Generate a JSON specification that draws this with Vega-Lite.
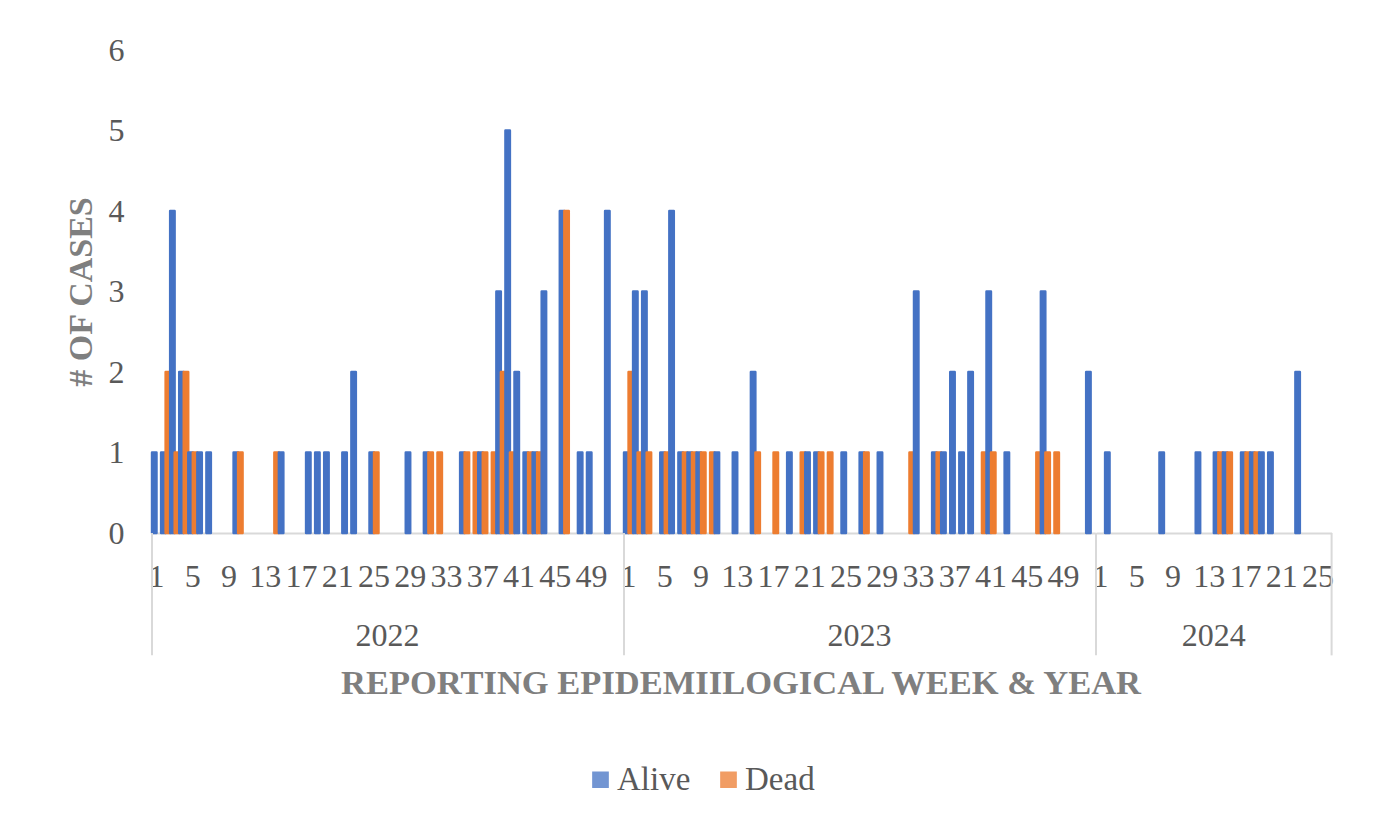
{
  "$schema": "https://vega.github.io/schema/vega-lite/v6.json",
  "background": "white",
  "padding": {"left": 64, "top": 34, "right": 5, "bottom": 5},
  "bounds": "flush",
  "data": {
    "values": [
      {"year": "2022", "week": 1, "Alive": 1, "Dead": 0},
      {"year": "2022", "week": 2, "Alive": 1, "Dead": 2},
      {"year": "2022", "week": 3, "Alive": 4, "Dead": 1},
      {"year": "2022", "week": 4, "Alive": 2, "Dead": 2},
      {"year": "2022", "week": 5, "Alive": 1, "Dead": 1},
      {"year": "2022", "week": 6, "Alive": 1, "Dead": 0},
      {"year": "2022", "week": 7, "Alive": 1, "Dead": 0},
      {"year": "2022", "week": 8, "Alive": 0, "Dead": 0},
      {"year": "2022", "week": 9, "Alive": 0, "Dead": 0},
      {"year": "2022", "week": 10, "Alive": 1, "Dead": 1},
      {"year": "2022", "week": 11, "Alive": 0, "Dead": 0},
      {"year": "2022", "week": 12, "Alive": 0, "Dead": 0},
      {"year": "2022", "week": 13, "Alive": 0, "Dead": 0},
      {"year": "2022", "week": 14, "Alive": 0, "Dead": 1},
      {"year": "2022", "week": 15, "Alive": 1, "Dead": 0},
      {"year": "2022", "week": 16, "Alive": 0, "Dead": 0},
      {"year": "2022", "week": 17, "Alive": 0, "Dead": 0},
      {"year": "2022", "week": 18, "Alive": 1, "Dead": 0},
      {"year": "2022", "week": 19, "Alive": 1, "Dead": 0},
      {"year": "2022", "week": 20, "Alive": 1, "Dead": 0},
      {"year": "2022", "week": 21, "Alive": 0, "Dead": 0},
      {"year": "2022", "week": 22, "Alive": 1, "Dead": 0},
      {"year": "2022", "week": 23, "Alive": 2, "Dead": 0},
      {"year": "2022", "week": 24, "Alive": 0, "Dead": 0},
      {"year": "2022", "week": 25, "Alive": 1, "Dead": 1},
      {"year": "2022", "week": 26, "Alive": 0, "Dead": 0},
      {"year": "2022", "week": 27, "Alive": 0, "Dead": 0},
      {"year": "2022", "week": 28, "Alive": 0, "Dead": 0},
      {"year": "2022", "week": 29, "Alive": 1, "Dead": 0},
      {"year": "2022", "week": 30, "Alive": 0, "Dead": 0},
      {"year": "2022", "week": 31, "Alive": 1, "Dead": 1},
      {"year": "2022", "week": 32, "Alive": 0, "Dead": 1},
      {"year": "2022", "week": 33, "Alive": 0, "Dead": 0},
      {"year": "2022", "week": 34, "Alive": 0, "Dead": 0},
      {"year": "2022", "week": 35, "Alive": 1, "Dead": 1},
      {"year": "2022", "week": 36, "Alive": 0, "Dead": 1},
      {"year": "2022", "week": 37, "Alive": 1, "Dead": 1},
      {"year": "2022", "week": 38, "Alive": 0, "Dead": 1},
      {"year": "2022", "week": 39, "Alive": 3, "Dead": 2},
      {"year": "2022", "week": 40, "Alive": 5, "Dead": 1},
      {"year": "2022", "week": 41, "Alive": 2, "Dead": 0},
      {"year": "2022", "week": 42, "Alive": 1, "Dead": 1},
      {"year": "2022", "week": 43, "Alive": 1, "Dead": 1},
      {"year": "2022", "week": 44, "Alive": 3, "Dead": 0},
      {"year": "2022", "week": 45, "Alive": 0, "Dead": 0},
      {"year": "2022", "week": 46, "Alive": 4, "Dead": 4},
      {"year": "2022", "week": 47, "Alive": 0, "Dead": 0},
      {"year": "2022", "week": 48, "Alive": 1, "Dead": 0},
      {"year": "2022", "week": 49, "Alive": 1, "Dead": 0},
      {"year": "2022", "week": 50, "Alive": 0, "Dead": 0},
      {"year": "2022", "week": 51, "Alive": 4, "Dead": 0},
      {"year": "2022", "week": 52, "Alive": 0, "Dead": 0},
      {"year": "2023", "week": 1, "Alive": 1, "Dead": 2},
      {"year": "2023", "week": 2, "Alive": 3, "Dead": 1},
      {"year": "2023", "week": 3, "Alive": 3, "Dead": 1},
      {"year": "2023", "week": 4, "Alive": 0, "Dead": 0},
      {"year": "2023", "week": 5, "Alive": 1, "Dead": 1},
      {"year": "2023", "week": 6, "Alive": 4, "Dead": 0},
      {"year": "2023", "week": 7, "Alive": 1, "Dead": 1},
      {"year": "2023", "week": 8, "Alive": 1, "Dead": 1},
      {"year": "2023", "week": 9, "Alive": 1, "Dead": 1},
      {"year": "2023", "week": 10, "Alive": 0, "Dead": 1},
      {"year": "2023", "week": 11, "Alive": 1, "Dead": 0},
      {"year": "2023", "week": 12, "Alive": 0, "Dead": 0},
      {"year": "2023", "week": 13, "Alive": 1, "Dead": 0},
      {"year": "2023", "week": 14, "Alive": 0, "Dead": 0},
      {"year": "2023", "week": 15, "Alive": 2, "Dead": 1},
      {"year": "2023", "week": 16, "Alive": 0, "Dead": 0},
      {"year": "2023", "week": 17, "Alive": 0, "Dead": 1},
      {"year": "2023", "week": 18, "Alive": 0, "Dead": 0},
      {"year": "2023", "week": 19, "Alive": 1, "Dead": 0},
      {"year": "2023", "week": 20, "Alive": 0, "Dead": 1},
      {"year": "2023", "week": 21, "Alive": 1, "Dead": 0},
      {"year": "2023", "week": 22, "Alive": 1, "Dead": 1},
      {"year": "2023", "week": 23, "Alive": 0, "Dead": 1},
      {"year": "2023", "week": 24, "Alive": 0, "Dead": 0},
      {"year": "2023", "week": 25, "Alive": 1, "Dead": 0},
      {"year": "2023", "week": 26, "Alive": 0, "Dead": 0},
      {"year": "2023", "week": 27, "Alive": 1, "Dead": 1},
      {"year": "2023", "week": 28, "Alive": 0, "Dead": 0},
      {"year": "2023", "week": 29, "Alive": 1, "Dead": 0},
      {"year": "2023", "week": 30, "Alive": 0, "Dead": 0},
      {"year": "2023", "week": 31, "Alive": 0, "Dead": 0},
      {"year": "2023", "week": 32, "Alive": 0, "Dead": 1},
      {"year": "2023", "week": 33, "Alive": 3, "Dead": 0},
      {"year": "2023", "week": 34, "Alive": 0, "Dead": 0},
      {"year": "2023", "week": 35, "Alive": 1, "Dead": 1},
      {"year": "2023", "week": 36, "Alive": 1, "Dead": 0},
      {"year": "2023", "week": 37, "Alive": 2, "Dead": 0},
      {"year": "2023", "week": 38, "Alive": 1, "Dead": 0},
      {"year": "2023", "week": 39, "Alive": 2, "Dead": 0},
      {"year": "2023", "week": 40, "Alive": 0, "Dead": 1},
      {"year": "2023", "week": 41, "Alive": 3, "Dead": 1},
      {"year": "2023", "week": 42, "Alive": 0, "Dead": 0},
      {"year": "2023", "week": 43, "Alive": 1, "Dead": 0},
      {"year": "2023", "week": 44, "Alive": 0, "Dead": 0},
      {"year": "2023", "week": 45, "Alive": 0, "Dead": 0},
      {"year": "2023", "week": 46, "Alive": 0, "Dead": 1},
      {"year": "2023", "week": 47, "Alive": 3, "Dead": 1},
      {"year": "2023", "week": 48, "Alive": 0, "Dead": 1},
      {"year": "2023", "week": 49, "Alive": 0, "Dead": 0},
      {"year": "2023", "week": 50, "Alive": 0, "Dead": 0},
      {"year": "2023", "week": 51, "Alive": 0, "Dead": 0},
      {"year": "2023", "week": 52, "Alive": 2, "Dead": 0},
      {"year": "2024", "week": 1, "Alive": 0, "Dead": 0},
      {"year": "2024", "week": 2, "Alive": 1, "Dead": 0},
      {"year": "2024", "week": 3, "Alive": 0, "Dead": 0},
      {"year": "2024", "week": 4, "Alive": 0, "Dead": 0},
      {"year": "2024", "week": 5, "Alive": 0, "Dead": 0},
      {"year": "2024", "week": 6, "Alive": 0, "Dead": 0},
      {"year": "2024", "week": 7, "Alive": 0, "Dead": 0},
      {"year": "2024", "week": 8, "Alive": 1, "Dead": 0},
      {"year": "2024", "week": 9, "Alive": 0, "Dead": 0},
      {"year": "2024", "week": 10, "Alive": 0, "Dead": 0},
      {"year": "2024", "week": 11, "Alive": 0, "Dead": 0},
      {"year": "2024", "week": 12, "Alive": 1, "Dead": 0},
      {"year": "2024", "week": 13, "Alive": 0, "Dead": 0},
      {"year": "2024", "week": 14, "Alive": 1, "Dead": 1},
      {"year": "2024", "week": 15, "Alive": 1, "Dead": 1},
      {"year": "2024", "week": 16, "Alive": 0, "Dead": 0},
      {"year": "2024", "week": 17, "Alive": 1, "Dead": 1},
      {"year": "2024", "week": 18, "Alive": 1, "Dead": 1},
      {"year": "2024", "week": 19, "Alive": 1, "Dead": 0},
      {"year": "2024", "week": 20, "Alive": 1, "Dead": 0},
      {"year": "2024", "week": 21, "Alive": 0, "Dead": 0},
      {"year": "2024", "week": 22, "Alive": 0, "Dead": 0},
      {"year": "2024", "week": 23, "Alive": 2, "Dead": 0},
      {"year": "2024", "week": 24, "Alive": 0, "Dead": 0},
      {"year": "2024", "week": 25, "Alive": 0, "Dead": 0},
      {"year": "2024", "week": 26, "Alive": 0, "Dead": 0}
    ]
  },
  "transform": [{"fold": ["Alive", "Dead"], "as": ["status", "cases"]}],
  "facet": {
    "column": {
      "field": "year",
      "type": "ordinal",
      "header": {
        "labelOrient": "bottom",
        "labelFont": "Liberation Serif",
        "labelFontSize": 32,
        "labelColor": "#595959",
        "labelPadding": 88,
        "title": "REPORTING EPIDEMIILOGICAL WEEK & YEAR",
        "titleOrient": "bottom",
        "titleFont": "Liberation Serif",
        "titleFontSize": 34.5,
        "titleFontWeight": "bold",
        "titleColor": "#7F7F7F",
        "titlePadding": 5
      }
    }
  },
  "spacing": {"column": 0},
  "resolve": {"scale": {"x": "independent"}},
  "spec": {
    "width": {"step": 9.0615, "for": "position"},
    "height": 483,
    "encoding": {
      "x": {
        "field": "week",
        "type": "ordinal",
        "scale": {"paddingInner": 0, "paddingOuter": 0},
        "axis": {
          "title": null,
          "labelAngle": 0,
          "labelExpr": "datum.value % 4 == 1 ? datum.label : ''",
          "labelFont": "Liberation Serif",
          "labelFontSize": 32,
          "labelColor": "#595959",
          "labelOverlap": false,
          "labelFlush": false,
          "labelBound": false,
          "labelPadding": 28,
          "ticks": false,
          "domainColor": "#D9D9D9",
          "domainWidth": 2,
          "grid": false
        }
      }
    },
    "layer": [
      {
        "mark": {"type": "bar", "strokeJoin": "round"},
        "encoding": {
          "xOffset": {"field": "status", "scale": {"range": [0, 9.0615], "paddingInner": 0, "paddingOuter": 0}},
          "y": {
            "field": "cases",
            "type": "quantitative",
            "scale": {"domain": [0, 6]},
            "axis": {
              "values": [0, 1, 2, 3, 4, 5, 6],
              "format": "d",
              "grid": false,
              "domain": false,
              "ticks": false,
              "labelFont": "Liberation Serif",
              "labelFontSize": 32,
              "labelColor": "#595959",
              "labelPadding": 28,
              "title": "# OF CASES",
              "titleFont": "Liberation Serif",
              "titleFontSize": 34,
              "titleFontWeight": "bold",
              "titleColor": "#7F7F7F",
              "titlePadding": 10
            }
          },
          "color": {
            "field": "status",
            "type": "nominal",
            "scale": {"domain": ["Alive", "Dead"], "range": ["#4472C4", "#ED7D31"]},
            "legend": {
              "orient": "none",
              "legendX": 432,
              "legendY": 713,
              "direction": "horizontal",
              "title": null,
              "labelFont": "Liberation Serif",
              "labelFontSize": 33,
              "labelColor": "#595959",
              "symbolType": "square",
              "symbolSize": 230,
              "symbolOpacity": 0.75,
              "columnPadding": 21,
              "labelOffset": 0
            }
          },
          "stroke": {
            "field": "status",
            "type": "nominal",
            "scale": {"domain": ["Alive", "Dead"], "range": ["#4472C4", "#ED7D31"]},
            "legend": null
          },
          "strokeWidth": {"condition": {"test": "datum.cases > 0", "value": 2.4}, "value": 0}
        }
      },
      {
        "transform": [{"filter": "datum.week == 1 && datum.status == 'Alive'"}],
        "mark": {"type": "rule", "color": "#D9D9D9", "strokeWidth": 2},
        "encoding": {
          "x": {"field": "week", "type": "ordinal", "bandPosition": 0},
          "y": {"datum": 0},
          "y2": {"datum": -1.52}
        }
      },
      {
        "transform": [{"filter": "datum.year == '2024' && datum.week == 26 && datum.status == 'Alive'"}],
        "mark": {"type": "rule", "color": "#D9D9D9", "strokeWidth": 2},
        "encoding": {
          "x": {"field": "week", "type": "ordinal", "bandPosition": 1},
          "y": {"datum": 0},
          "y2": {"datum": -1.52}
        }
      }
    ]
  },
  "config": {"view": {"stroke": null}, "font": "Liberation Serif"}
}
